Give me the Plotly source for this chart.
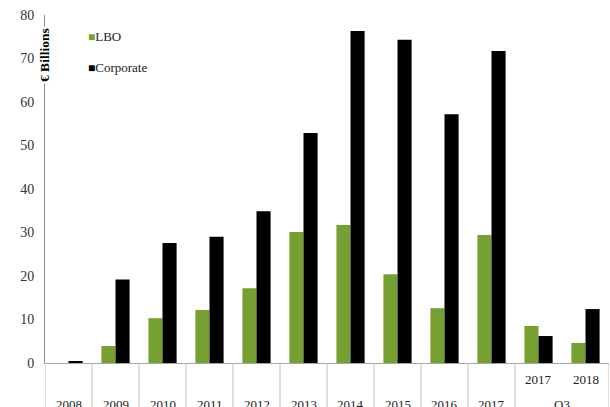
import plotly.graph_objects as go

categories = ["2008", "2009", "2010", "2011", "2012", "2013", "2014", "2015",
              "2016", "2017", "Q3 2017", "Q3 2018"]
tick_labels = ["2008", "2009", "2010", "2011", "2012", "2013", "2014", "2015",
               "2016", "2017", "2017", "2018"]
lbo = [0, 3.9, 10.3, 12.2, 17.2, 30.1, 31.7, 20.4, 12.6, 29.4, 8.5, 4.6]
corporate = [0.3, 19.2, 27.6, 29.0, 34.9, 52.9, 76.3, 74.3, 57.2, 71.7, 6.2, 12.4]
y_ticks = [0, 10, 20, 30, 40, 50, 60, 70, 80]

FONT = "Liberation Serif"
GREEN = "#77A033"
PH = 348.0  # plot height px

fig = go.Figure()
fig.add_bar(x=categories, y=lbo, name="LBO", marker_color=GREEN,
            marker_line_width=0, showlegend=False)
fig.add_bar(x=categories, y=corporate, name="Corporate", marker_color="#000000",
            marker_line_width=0, showlegend=False)

fig.update_layout(
    width=610, height=407,
    margin=dict(l=45, r=1, t=15, b=44, autoexpand=False),
    paper_bgcolor="white", plot_bgcolor="white",
    barmode="group", bargap=0.4, bargroupgap=0,
    font=dict(family=FONT, size=13, color="#333333"),
    showlegend=False,
    xaxis=dict(type="category", range=[-0.5, 11.5], showticklabels=False,
               showgrid=False, showline=True, linecolor="#a6a6a6", linewidth=1,
               ticks="", zeroline=False, automargin=False),
    yaxis=dict(range=[0, 80], tickvals=y_ticks, showgrid=False, zeroline=False,
               showline=True, linecolor="#868686", linewidth=1, ticks="",
               ticklabelstandoff=7, automargin=False,
               tickfont=dict(size=14, color="#333333")),
)

# category separators
for b in [i - 0.5 for i in range(11)] + [11.5]:
    fig.add_shape(type="line", xref="x", yref="paper", x0=b, x1=b, y0=0, y1=-0.2,
                  line=dict(color="#bfbfbf", width=1))

# tick labels
for i, lab in enumerate(tick_labels):
    yy = -41 / PH if i < 10 else -16 / PH
    fig.add_annotation(x=i, y=yy, xref="x", yref="paper", text=lab, showarrow=False,
                       yanchor="middle", font=dict(size=13, color="#222222"))
fig.add_annotation(x=10.5, y=-41 / PH, xref="x", yref="paper", text="Q3", showarrow=False,
                   yanchor="middle", font=dict(size=13, color="#222222"))

# y axis title
fig.add_annotation(x=0, y=(363 - 55) / PH, xref="paper", yref="paper",
                   text="<b>€ Billions</b>", textangle=-90, showarrow=False,
                   bgcolor="white", xanchor="center", yanchor="middle",
                   font=dict(size=13.5, color="#000000"))

# legend
for name, col, ypx in [("LBO", GREEN, 37), ("Corporate", "#000000", 67)]:
    fig.add_annotation(x=(86 - 45) / 564, y=(363 - ypx) / PH, xref="paper", yref="paper",
                       text=f'<span style="color:{col};font-size:12px">■</span>{name}',
                       showarrow=False, xanchor="left", yanchor="middle",
                       font=dict(size=13, color="#222222"))

fig.write_html("out.html", config={"displayModeBar": False},
               post_script="document.body.style.margin='0';document.body.style.overflow='hidden';")
